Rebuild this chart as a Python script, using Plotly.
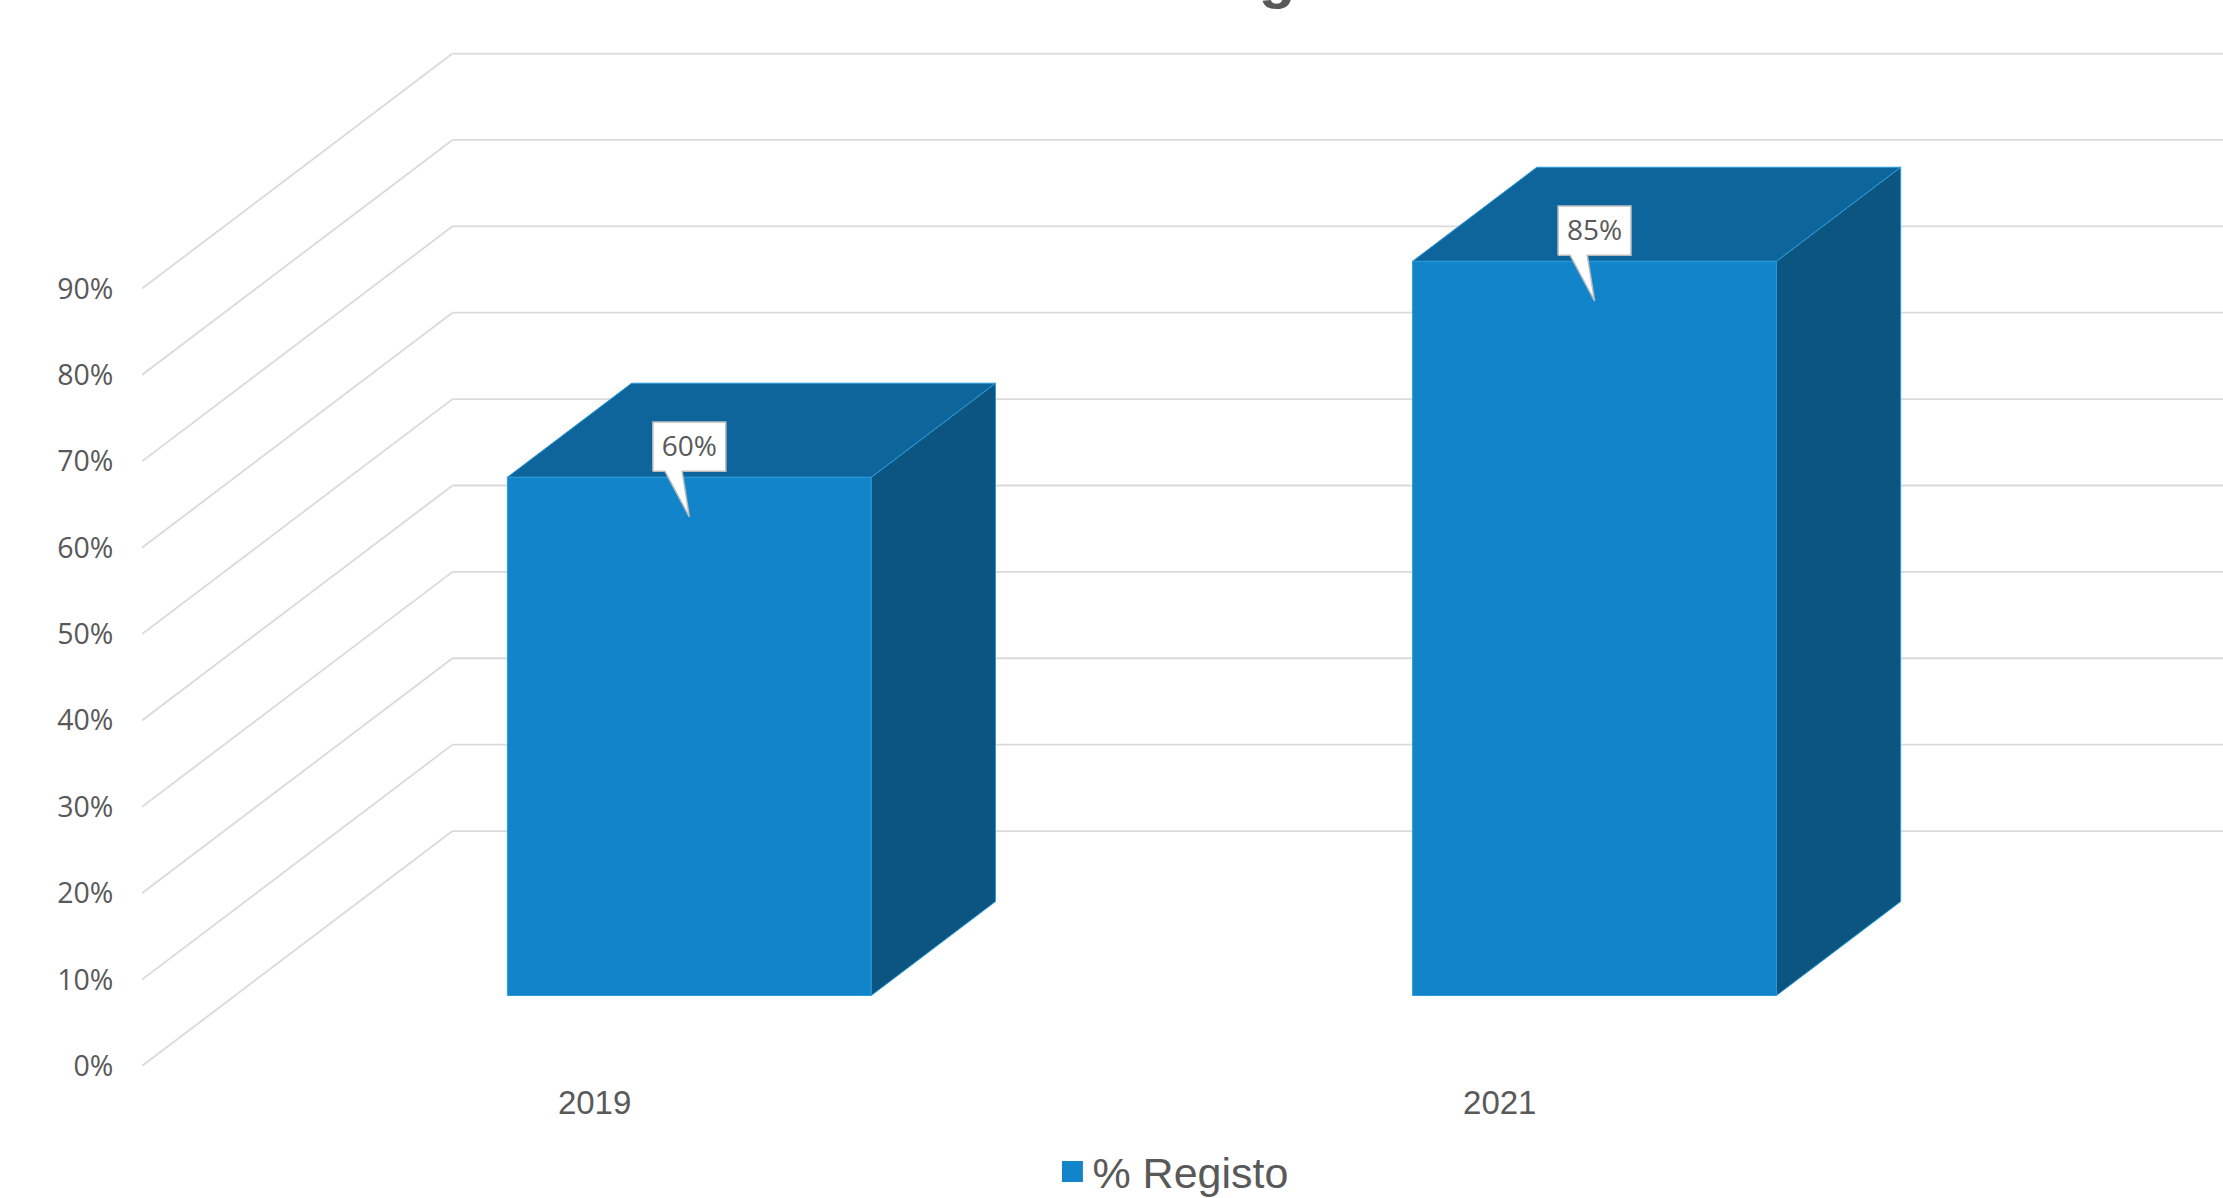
import plotly.graph_objects as go

# Data
categories = ["2019", "2021"]
category_pos = [0, 1]
registo_pct = [60, 85]
y_ticks = [0, 10, 20, 30, 40, 50, 60, 70, 80, 90]
y_tick_labels = [f"{v}%" for v in y_ticks]
series_name = "% Registo"
chart_title = "% Registo"

# Oblique projection of the 3D box: how far the back wall sits from the front plane,
# in axis units (categories horizontally, percentage points vertically).
DEPTH_X = 0.343
DEPTH_Y = 27.2
BAR_FRONT = 0.3      # share of the floor depth in front of the bars
BAR_DEPTH = 0.4      # share of the floor depth taken up by the bars
BAR_WIDTH = 0.402
BAR_SHIFT = 0.0018   # small sideways nudge of the bars within their category
X_RANGE = [-0.5, 1.799]
Y_RANGE = [0, 123.4]

FRONT = "#1285CA"
TOP = "#0D659C"
SIDE = "#0C5580"
EDGE = "#2A9BDC"
GRID = "#DADADA"
TEXT = "#595959"


def project(x, y, depth):
    """Map a point of the 3D box onto the flat axes."""
    return x + depth * DEPTH_X, y + depth * DEPTH_Y


def polygon(points, color, edge=EDGE, width=1):
    xs = [p[0] for p in points] + [points[0][0]]
    ys = [p[1] for p in points] + [points[0][1]]
    return go.Scatter(x=xs, y=ys, mode="lines", fill="toself", fillcolor=color,
                      line=dict(color=edge, width=width), showlegend=False,
                      hoverinfo="skip")


fig = go.Figure()

# Gridlines run across the side wall, then along the back wall, beneath every trace
grid_shapes = []
for tick in y_ticks:
    a = project(X_RANGE[0], tick, 0)
    b = project(X_RANGE[0], tick, 1)
    c = project(X_RANGE[1] + 1, tick, 1)
    for p, q in ((a, b), (b, c)):
        grid_shapes.append(dict(type="line", xref="x", yref="y", layer="below",
                                x0=p[0], y0=p[1], x1=q[0], y1=q[1],
                                line=dict(color=GRID, width=1.8)))

# Box faces behind the front of each bar
base = BAR_FRONT * DEPTH_Y
front_centres = []
for cat, value in zip(category_pos, registo_pct):
    left, _ = project(cat + BAR_SHIFT - BAR_WIDTH / 2, 0, BAR_FRONT)
    right, _ = project(cat + BAR_SHIFT + BAR_WIDTH / 2, 0, BAR_FRONT)
    front_centres.append((left + right) / 2)
    top = base + value
    dx = BAR_DEPTH * DEPTH_X
    dy = BAR_DEPTH * DEPTH_Y
    fig.add_trace(polygon([(right, base), (right + dx, base + dy),
                           (right + dx, top + dy), (right, top)], SIDE))
    fig.add_trace(polygon([(left, top), (left + dx, top + dy),
                           (right + dx, top + dy), (right, top)], TOP))

# Front faces are ordinary bars lifted off the front of the floor
fig.add_trace(go.Bar(x=front_centres, y=registo_pct, base=[base] * len(registo_pct),
                     width=BAR_WIDTH, marker=dict(color=FRONT, line=dict(color=EDGE, width=1)),
                     showlegend=False, hoverinfo="skip"))

# Value callouts: white box with a wedge pointing at the bar's front face
BOX_W = 0.0806      # box width in category units
BOX_H = 5.7         # box height in percentage points
BOX_GAP = 0.7       # box bottom above the top of the front face
TIP_DROP = 4.6      # wedge tip below the top of the front face
TEXT_DROP = 0.3     # label sits slightly under the middle of its box
for centre, value in zip(front_centres, registo_pct):
    top = base + value
    x0, x1 = centre - BOX_W / 2, centre + BOX_W / 2
    y0, y1 = top + BOX_GAP, top + BOX_GAP + BOX_H
    outline = [(x0, y0), (centre - 0.027, y0), (centre, top - TIP_DROP),
               (centre - 0.008, y0), (x1, y0), (x1, y1), (x0, y1)]
    fig.add_trace(polygon(outline, "#FFFFFF", edge="#BDBDBD", width=1.5))
    fig.add_trace(go.Scatter(x=[centre], y=[(y0 + y1) / 2 - TEXT_DROP], mode="text",
                             text=[f"{value}%"], textposition="middle center",
                             textfont=dict(family="Open Sans", size=28, color=TEXT),
                             showlegend=False, hoverinfo="skip"))

# Legend entry
fig.add_trace(go.Scatter(x=[None], y=[None], mode="markers", name=series_name,
                         marker=dict(symbol="square", size=16, color=FRONT,
                                     line=dict(color=FRONT, width=5))))

fig.update_layout(
    width=2223, height=1198,
    margin=dict(l=142, r=0, t=0, b=132, autoexpand=False),
    plot_bgcolor="white", paper_bgcolor="white",
    showlegend=True,
    shapes=grid_shapes,
    legend=dict(orientation="h", x=0.4954, xanchor="center", y=-0.099, yanchor="middle",
                font=dict(family="Liberation Sans", size=43, color=TEXT),
                itemsizing="trace", bgcolor="rgba(0,0,0,0)"),
    xaxis=dict(range=X_RANGE, tickmode="array", tickvals=category_pos, ticktext=categories,
               showgrid=False, zeroline=False, showline=False,
               ticks="outside", ticklen=7, tickcolor="rgba(0,0,0,0)",
               tickfont=dict(family="Liberation Sans", size=33, color=TEXT)),
    yaxis=dict(range=Y_RANGE, tickmode="array", tickvals=y_ticks, ticktext=y_tick_labels,
               showgrid=False, zeroline=False, showline=False,
               ticks="outside", ticklen=22, tickcolor="rgba(0,0,0,0)",
               tickfont=dict(family="Open Sans", size=28.5, color=TEXT)),
    annotations=[dict(text=f"<b>{chart_title}</b>", xref="paper", yref="paper",
                      x=0.5358, y=1, xanchor="center", yanchor="bottom", yshift=-12,
                      showarrow=False,
                      font=dict(family="Liberation Sans", size=60, color=TEXT))],
)

fig.write_html("out.html")
